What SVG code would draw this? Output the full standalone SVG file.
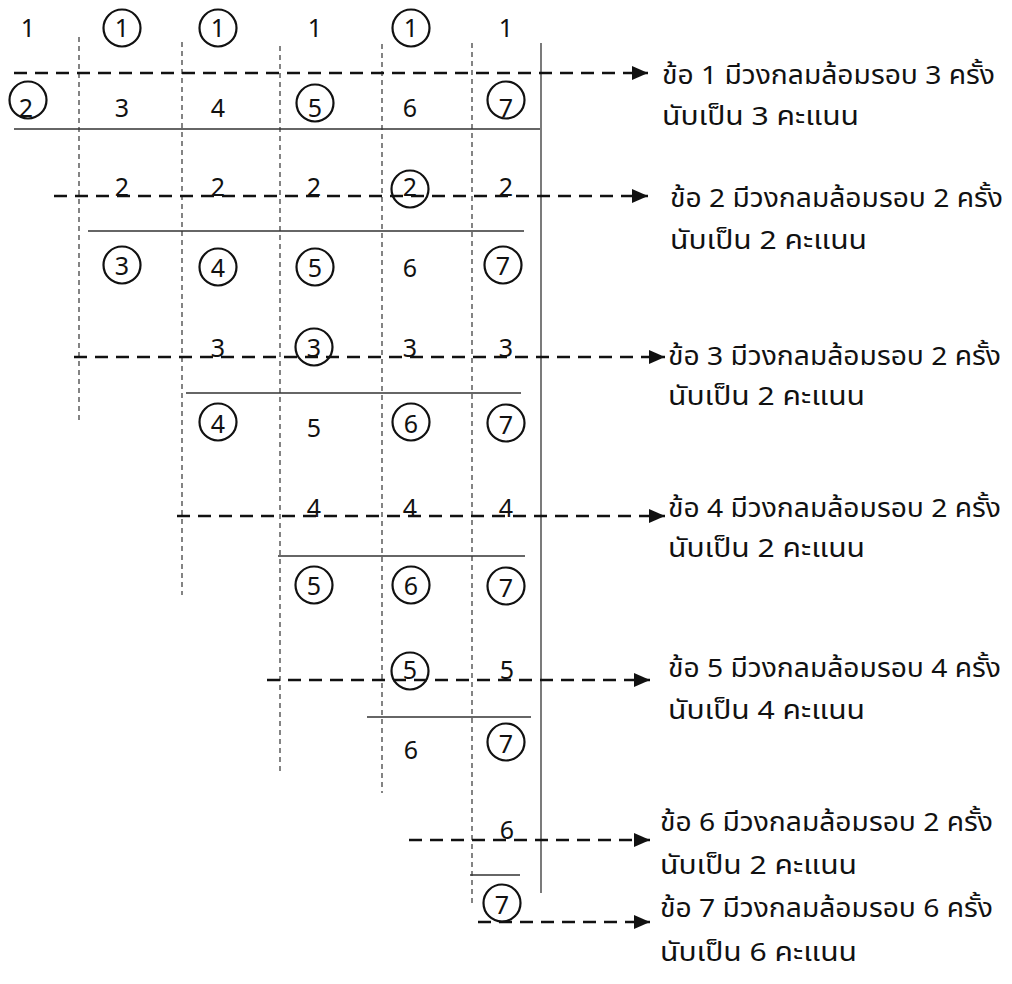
<svg xmlns="http://www.w3.org/2000/svg" width="1012" height="984" viewBox="0 0 1012 984">
<style>
text{font-family:"Noto Sans Thai","Noto Sans","DejaVu Sans",sans-serif;font-size:25px;fill:#111;}
.n{text-anchor:middle;}
.t{font-size:26px;}
.c{fill:none;stroke:#111;stroke-width:2.2;}
.vd{stroke:#333;stroke-width:1.2;stroke-dasharray:5,4;fill:none;}
.hd{stroke:#111;stroke-width:2.6;stroke-dasharray:13,8;fill:none;}
.hs{stroke:#333;stroke-width:1.3;fill:none;}
</style>
<defs>
<marker id="ah" markerUnits="userSpaceOnUse" markerWidth="17" markerHeight="15" refX="16" refY="7" orient="auto">
<path d="M0,0 L16,7 L0,14 Z" fill="#111"/>
</marker>
</defs>
<rect width="1012" height="984" fill="#fff"/>
<g id="grid">
<line class="vd" x1="79" y1="37" x2="79" y2="422"/>
<line class="vd" x1="182" y1="42" x2="182" y2="595"/>
<line class="vd" x1="280" y1="46" x2="280" y2="775"/>
<line class="vd" x1="382" y1="44" x2="382" y2="793"/>
<line class="vd" x1="472" y1="43" x2="472" y2="907"/>
<line class="hs" x1="541" y1="43" x2="541" y2="893"/>
<line class="hs" x1="14" y1="129" x2="540" y2="129"/>
<line class="hs" x1="88" y1="231" x2="524" y2="231"/>
<line class="hs" x1="186" y1="393" x2="521" y2="393"/>
<line class="hs" x1="278" y1="556" x2="525" y2="556"/>
<line class="hs" x1="367" y1="717" x2="531" y2="717"/>
<line class="hs" x1="470" y1="875" x2="520" y2="875"/>
</g>
<g id="connectors">
<line class="hd" x1="14" y1="73" x2="648" y2="73" marker-end="url(#ah)"/>
<line class="hd" x1="54" y1="196" x2="648" y2="196" marker-end="url(#ah)"/>
<line class="hd" x1="74" y1="357" x2="665" y2="357" marker-end="url(#ah)"/>
<line class="hd" x1="177" y1="516" x2="665" y2="516" marker-end="url(#ah)"/>
<line class="hd" x1="267" y1="680" x2="650" y2="680" marker-end="url(#ah)"/>
<line class="hd" x1="409" y1="840" x2="650" y2="840" marker-end="url(#ah)"/>
<line class="hd" x1="478" y1="922" x2="650" y2="922" marker-end="url(#ah)"/>
</g>
<g id="row0">
<text class="n" x="28" y="37">1</text>
<circle class="c" cx="122" cy="28" r="18.5"/><text class="n" x="122" y="37">1</text>
<circle class="c" cx="218" cy="28" r="18.5"/><text class="n" x="218" y="37">1</text>
<text class="n" x="315" y="37">1</text>
<circle class="c" cx="411" cy="28" r="18.5"/><text class="n" x="411" y="37">1</text>
<text class="n" x="506" y="37">1</text>
</g>
<g id="row1">
<circle class="c" cx="28" cy="100" r="18.5"/><text class="n" x="26" y="117">2</text>
<text class="n" x="122" y="117">3</text>
<text class="n" x="218" y="117">4</text>
<circle class="c" cx="315" cy="103" r="18.5"/><text class="n" x="315" y="117">5</text>
<text class="n" x="410" y="117">6</text>
<circle class="c" cx="506" cy="100" r="18.5"/><text class="n" x="506" y="117">7</text>
</g>
<g id="row2">
<text class="n" x="122" y="196">2</text>
<text class="n" x="218" y="196">2</text>
<text class="n" x="314" y="196">2</text>
<circle class="c" cx="410" cy="189" r="18.5"/><text class="n" x="410" y="196">2</text>
<text class="n" x="506" y="196">2</text>
</g>
<g id="row3">
<circle class="c" cx="122" cy="265" r="18.5"/><text class="n" x="122" y="275">3</text>
<circle class="c" cx="218" cy="267" r="18.5"/><text class="n" x="218" y="277">4</text>
<circle class="c" cx="315" cy="267" r="18.5"/><text class="n" x="315" y="277">5</text>
<text class="n" x="410" y="277">6</text>
<circle class="c" cx="503" cy="265" r="18.5"/><text class="n" x="503" y="275">7</text>
</g>
<g id="row4">
<text class="n" x="218" y="357">3</text>
<circle class="c" cx="314" cy="347" r="18.5"/><text class="n" x="314" y="357">3</text>
<text class="n" x="410" y="357">3</text>
<text class="n" x="506" y="357">3</text>
</g>
<g id="row5">
<circle class="c" cx="218" cy="422" r="18.5"/><text class="n" x="218" y="433">4</text>
<text class="n" x="314" y="437">5</text>
<circle class="c" cx="411" cy="422" r="18.5"/><text class="n" x="411" y="433">6</text>
<circle class="c" cx="506" cy="423" r="18.5"/><text class="n" x="506" y="434">7</text>
</g>
<g id="row6">
<text class="n" x="314" y="517">4</text>
<text class="n" x="410" y="517">4</text>
<text class="n" x="506" y="517">4</text>
</g>
<g id="row7">
<circle class="c" cx="314" cy="585" r="18.5"/><text class="n" x="314" y="595">5</text>
<circle class="c" cx="411" cy="585" r="18.5"/><text class="n" x="411" y="595">6</text>
<circle class="c" cx="506" cy="586" r="18.5"/><text class="n" x="506" y="597">7</text>
</g>
<g id="row8">
<circle class="c" cx="410" cy="671" r="18.5"/><text class="n" x="410" y="679">5</text>
<text class="n" x="507" y="679">5</text>
</g>
<g id="row9">
<text class="n" x="411" y="759">6</text>
<circle class="c" cx="506" cy="742" r="18.5"/><text class="n" x="506" y="753">7</text>
</g>
<g id="row10">
<text class="n" x="507" y="839">6</text>
</g>
<g id="row11">
<circle class="c" cx="502" cy="903" r="18.5"/><text class="n" x="502" y="914">7</text>
</g>
<g id="labels">
<text class="t" x="662" y="84" textLength="333" lengthAdjust="spacingAndGlyphs">ข้อ 1 มีวงกลมล้อมรอบ 3 ครั้ง</text>
<text class="t" x="662" y="125" textLength="197" lengthAdjust="spacingAndGlyphs">นับเป็น 3 คะแนน</text>
<text class="t" x="670" y="207" textLength="333" lengthAdjust="spacingAndGlyphs">ข้อ 2 มีวงกลมล้อมรอบ 2 ครั้ง</text>
<text class="t" x="670" y="249" textLength="197" lengthAdjust="spacingAndGlyphs">นับเป็น 2 คะแนน</text>
<text class="t" x="668" y="365" textLength="333" lengthAdjust="spacingAndGlyphs">ข้อ 3 มีวงกลมล้อมรอบ 2 ครั้ง</text>
<text class="t" x="668" y="405" textLength="197" lengthAdjust="spacingAndGlyphs">นับเป็น 2 คะแนน</text>
<text class="t" x="668" y="517" textLength="333" lengthAdjust="spacingAndGlyphs">ข้อ 4 มีวงกลมล้อมรอบ 2 ครั้ง</text>
<text class="t" x="668" y="557" textLength="197" lengthAdjust="spacingAndGlyphs">นับเป็น 2 คะแนน</text>
<text class="t" x="668" y="677" textLength="333" lengthAdjust="spacingAndGlyphs">ข้อ 5 มีวงกลมล้อมรอบ 4 ครั้ง</text>
<text class="t" x="668" y="719" textLength="197" lengthAdjust="spacingAndGlyphs">นับเป็น 4 คะแนน</text>
<text class="t" x="660" y="831" textLength="333" lengthAdjust="spacingAndGlyphs">ข้อ 6 มีวงกลมล้อมรอบ 2 ครั้ง</text>
<text class="t" x="660" y="874" textLength="197" lengthAdjust="spacingAndGlyphs">นับเป็น 2 คะแนน</text>
<text class="t" x="660" y="917" textLength="333" lengthAdjust="spacingAndGlyphs">ข้อ 7 มีวงกลมล้อมรอบ 6 ครั้ง</text>
<text class="t" x="660" y="961" textLength="197" lengthAdjust="spacingAndGlyphs">นับเป็น 6 คะแนน</text>
</g>
</svg>
